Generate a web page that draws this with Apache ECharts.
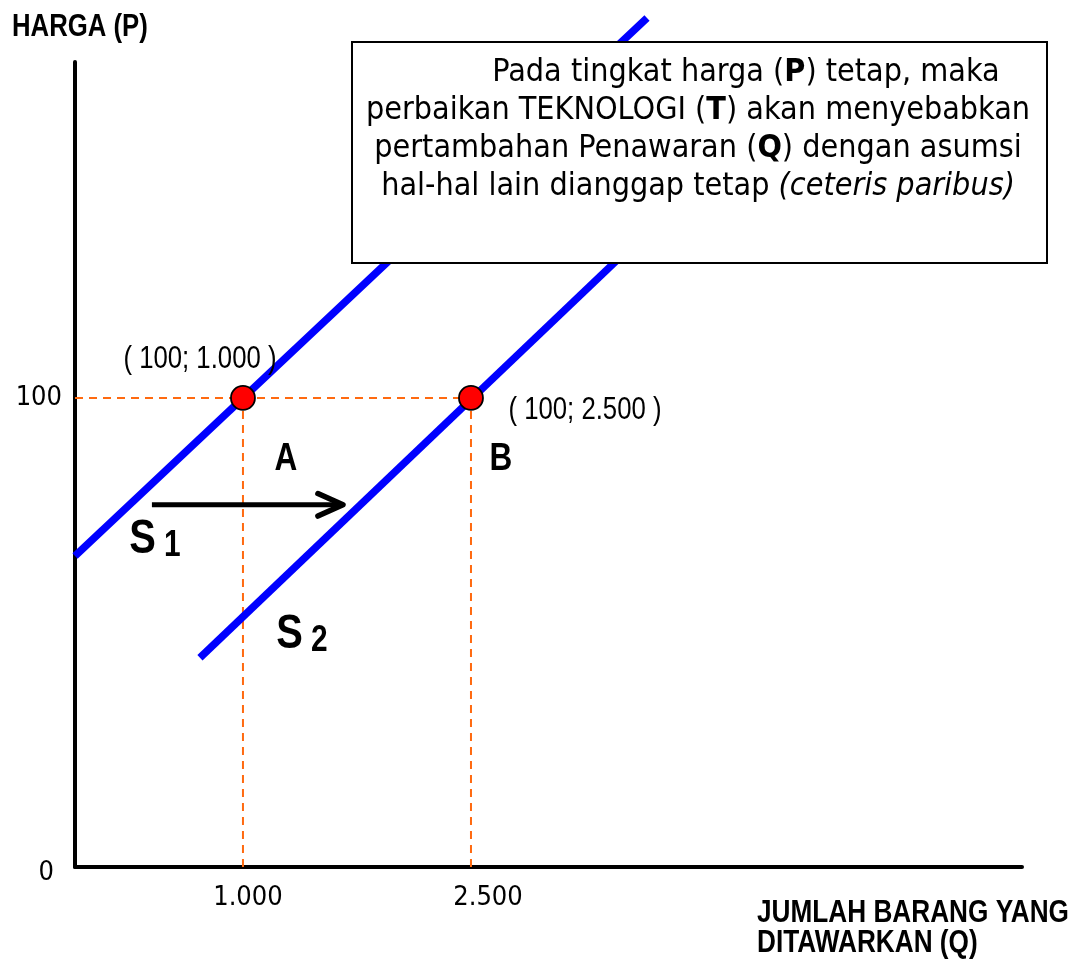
<!DOCTYPE html>
<html>
<head>
<meta charset="utf-8">
<script src="https://cdn.jsdelivr.net/npm/echarts@6/dist/echarts.min.js"></script>
<style>html,body{margin:0;padding:0;background:#fff}#c{width:1079px;height:961px}</style>
</head>
<body>
<div id="c"></div>
<script>
// ---- data ----
const xTickValues = [1000, 2500];
const xTickLabels = ['1.000', '2.500'];
const yTickValues = [0, 100];
const yTickLabels = ['0', '100'];
const supplyS1 = [[-105, 66.3], [3658, 181]];
const supplyS2 = [[717, 44.6], [3870, 142]];
const equilibriumPoints = [[1000, 100], [2500, 100]];
const guideHorizontal = [[-105, 100], [2500, 100]];
const guideVertical1 = [[1000, 0], [1000, 100]];
const guideVertical2 = [[2500, 0], [2500, 100]];
const shiftArrow = [[401, 77.2], [1655, 77.2]];
const arrowHead = [[1493, 79.6], [1658, 77.2], [1493, 74.8]];
const pointLabels = [
  { value: [717, 108.1], text: '( 100; 1.000 )' },
  { value: [3250, 97.4], text: '( 100; 2.500 )' }
];
const letterLabels = [
  { value: [1283, 86.8], text: 'A' },
  { value: [2697, 86.8], text: 'B' }
];
const curveLabels = [
  { value: [421, 69.7], s: 'S', n: '1' },
  { value: [1388, 49.5], s: 'S', n: '2' }
];
const titleY = 'HARGA (P)';
const titleX = ['JUMLAH BARANG YANG', 'DITAWARKAN (Q)'];
const noteLines = [
  'Pada tingkat harga ({b|P}) tetap, maka',
  'perbaikan TEKNOLOGI ({b|T}) akan menyebabkan',
  'pertambahan Penawaran ({b|Q}) dengan asumsi',
  'hal-hal lain dianggap tetap {i|(ceteris paribus)}'
];

// ---- chart ----
const ARIAL = "'Liberation Sans', Arial, sans-serif";
const COND = "'DejaVu Sans Condensed', 'DejaVu Sans', sans-serif";
const NOTE = "'DejaVu Sans Condensed', 'DejaVu Sans', sans-serif";
const NARROW_SCALE = 0.83;
const BLUE = '#0000ff';
const ORANGE = '#ff6a10';

const chart = echarts.init(document.getElementById('c'), null, { renderer: 'canvas' });

const dashStyle = { color: ORANGE, width: 2, type: [8, 6] };

const option = {
  animation: false,
  backgroundColor: '#fff',
  grid: { left: 75, right: 57, top: 62, bottom: 94, containLabel: false },
  xAxis: {
    type: 'value', min: -105, max: 6125,
    axisLine: { show: true, onZero: false, lineStyle: { color: '#000', width: 4 } },
    axisTick: { show: false },
    splitLine: { show: false },
    axisLabel: {
      customValues: xTickValues, margin: 17,
      formatter: function (v) {
        const i = xTickValues.indexOf(v);
        return i < 0 ? '' : '{t' + i + '|' + xTickLabels[i] + '}';
      },
      rich: {
        t0: { fontFamily: COND, fontSize: 27, color: '#000', padding: [0, 0, 0, 10] },
        t1: { fontFamily: COND, fontSize: 27, color: '#000', padding: [0, 0, 0, 34] }
      }
    }
  },
  yAxis: {
    type: 'value', min: 0, max: 171.6,
    axisLine: { show: true, onZero: false, lineStyle: { color: '#000', width: 4 } },
    axisTick: { show: false },
    splitLine: { show: false },
    axisLabel: {
      customValues: yTickValues, margin: 13,
      formatter: function (v) {
        const i = yTickValues.indexOf(v);
        return i < 0 ? '' : '{t' + i + '|' + yTickLabels[i] + '}';
      },
      rich: {
        t0: { fontFamily: COND, fontSize: 27, color: '#000', padding: [12, 8, 0, 0] },
        t1: { fontFamily: COND, fontSize: 27, color: '#000' }
      }
    }
  },
  series: [
    { type: 'line', data: guideHorizontal, symbol: 'none', lineStyle: dashStyle, z: 1, silent: true },
    { type: 'line', data: guideVertical1, symbol: 'none', lineStyle: dashStyle, z: 1, silent: true },
    { type: 'line', data: guideVertical2, symbol: 'none', lineStyle: dashStyle, z: 1, silent: true },
    { type: 'line', name: 'S1', data: supplyS1, symbol: 'none', clip: false,
      lineStyle: { color: BLUE, width: 7.5, cap: 'butt' }, z: 3 },
    { type: 'line', name: 'S2', data: supplyS2, symbol: 'none', clip: false,
      lineStyle: { color: BLUE, width: 7.5, cap: 'butt' }, z: 3 },
    { type: 'line', data: shiftArrow, symbol: 'none',
      lineStyle: { color: '#000', width: 5, cap: 'butt' }, z: 4 },
    { type: 'line', data: arrowHead, symbol: 'none',
      lineStyle: { color: '#000', width: 5.5, cap: 'round', join: 'round' }, z: 4 },
    { type: 'scatter', data: equilibriumPoints, symbol: 'circle', symbolSize: 24, z: 5,
      itemStyle: { color: '#ff0000', borderColor: '#000', borderWidth: 1.8, opacity: 1 } }
  ]
};
chart.setOption(option);

// ---- text annotations placed through the chart's own scales ----
function toPx(v) { return chart.convertToPixel({ gridIndex: 0 }, v); }

const graphics = [
  { type: 'text', x: 12, y: 27, z: 10, scaleX: NARROW_SCALE,
    style: { text: titleY, fontFamily: ARIAL, fontSize: 31, fontWeight: 'bold', fill: '#000', verticalAlign: 'middle' } },
  { type: 'text', x: 757, y: 898, z: 10, scaleX: 0.845,
    style: { text: titleX.join('\n'), fontFamily: ARIAL, fontSize: 31, fontWeight: 'bold', lineHeight: 30, fill: '#000' } },
  { type: 'rect', z: 100, shape: { x: 352, y: 42, width: 695, height: 221 },
    style: { fill: '#fff', stroke: '#000', lineWidth: 2 } }
];

const noteX = 698, noteY0 = 73, noteStep = 37.8;
noteLines.forEach(function (t, i) {
  graphics.push({
    type: 'text', z: 101,
    x: i === 0 ? noteX + 48 : noteX, y: noteY0 + i * noteStep,
    style: {
      text: t, fontFamily: NOTE, fontSize: 32, fill: '#000', align: 'center', verticalAlign: 'middle',
      rich: {
        b: { fontFamily: NOTE, fontSize: 32, fontWeight: 'bold', fill: '#000' },
        i: { fontFamily: NOTE, fontSize: 32, fontStyle: 'italic', fill: '#000' }
      }
    }
  });
});

pointLabels.forEach(function (d) {
  const p = toPx(d.value);
  graphics.push({ type: 'text', x: p[0], y: p[1], z: 20, scaleX: NARROW_SCALE,
    style: { text: d.text, fontFamily: ARIAL, fontSize: 31, fill: '#000', align: 'center', verticalAlign: 'middle' } });
});
letterLabels.forEach(function (d) {
  const p = toPx(d.value);
  graphics.push({ type: 'text', x: p[0], y: p[1], z: 20, scaleX: NARROW_SCALE,
    style: { text: d.text, fontFamily: ARIAL, fontSize: 38, fontWeight: 'bold', fill: '#000', align: 'center', verticalAlign: 'middle' } });
});
curveLabels.forEach(function (d) {
  const p = toPx(d.value);
  graphics.push({ type: 'text', x: p[0], y: p[1], z: 20, scaleX: NARROW_SCALE,
    style: {
      text: '{s|' + d.s + '} {n|' + d.n + '}', align: 'center', verticalAlign: 'middle',
      fontFamily: ARIAL, fontSize: 36, fontWeight: 'bold', fill: '#000',
      rich: {
        s: { fontFamily: ARIAL, fontSize: 48, fontWeight: 'bold', fill: '#000', verticalAlign: 'bottom' },
        n: { fontFamily: ARIAL, fontSize: 36, fontWeight: 'bold', fill: '#000', verticalAlign: 'bottom' }
      }
    } });
});

chart.setOption({ graphic: graphics });
</script>
</body>
</html>
